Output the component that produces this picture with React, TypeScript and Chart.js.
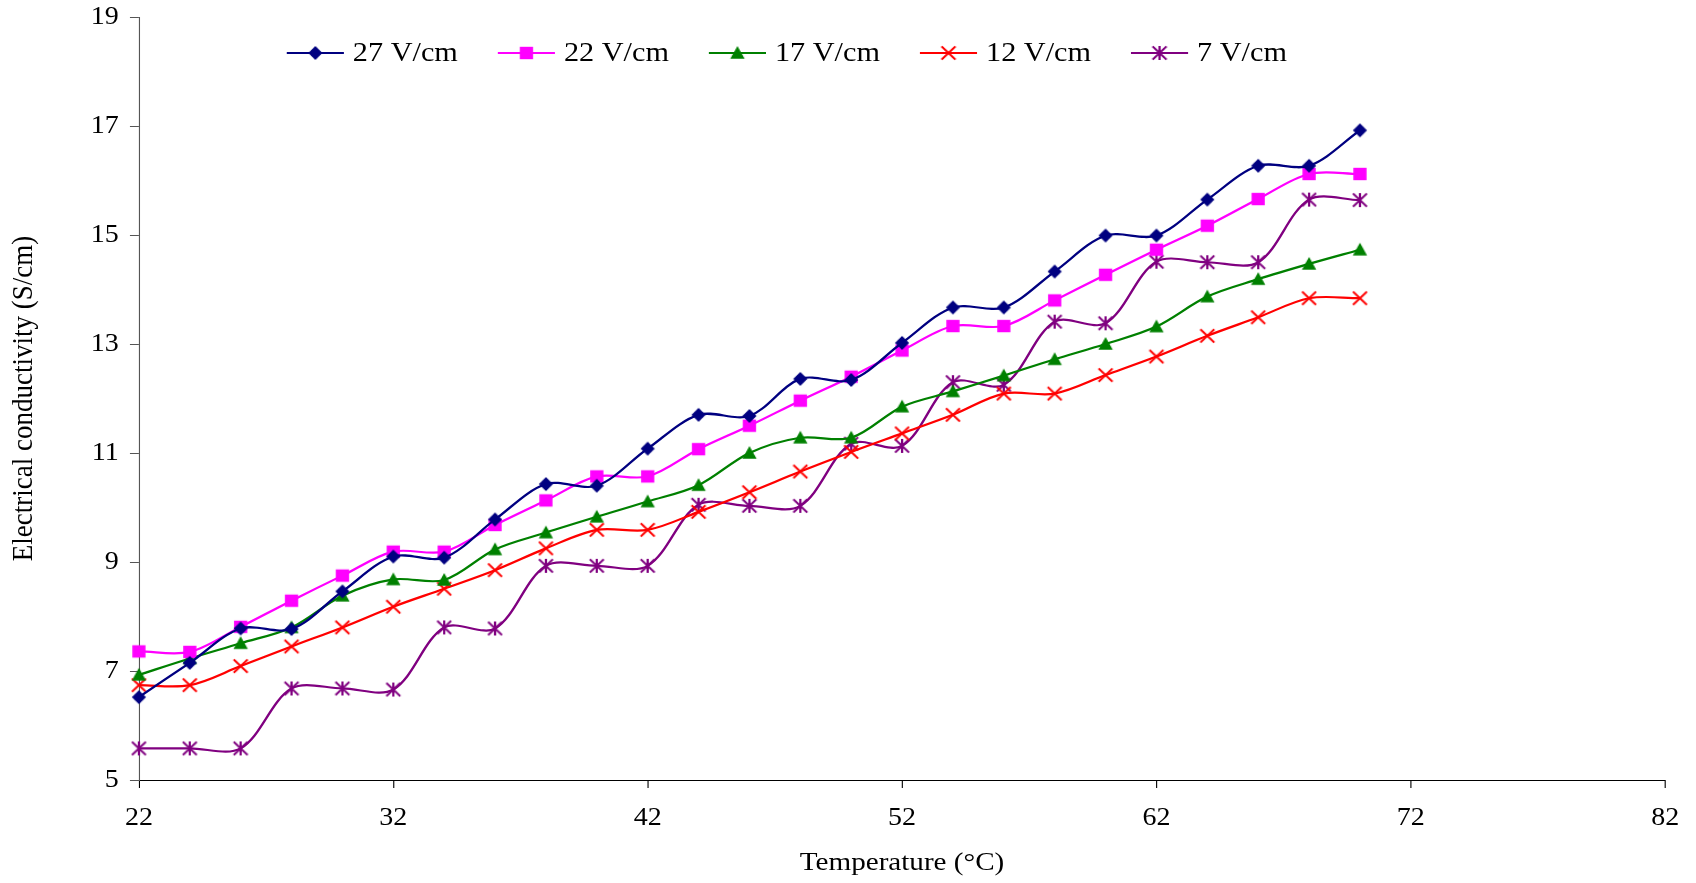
import React, { useEffect, useRef } from 'react';
import { Chart, registerables } from 'chart.js';

Chart.register(...registerables);

// ---- data ----
const temperatures = [22, 24, 26, 28, 30, 32, 34, 36, 38, 40, 42, 44, 46, 48, 50, 52, 54, 56, 58, 60, 62, 64, 66, 68, 70];
const seriesLabels = ['27 V/cm', '22 V/cm', '17 V/cm', '12 V/cm', '7 V/cm'];
const v27 = [6.52, 7.15, 7.78, 7.77, 8.46, 9.10, 9.08, 9.78, 10.43, 10.40, 11.08, 11.70, 11.68, 12.36, 12.34, 13.02, 13.67, 13.67, 14.33, 14.99, 14.99, 15.65, 16.27, 16.27, 16.92];
const v22 = [7.36, 7.35, 7.81, 8.29, 8.75, 9.19, 9.19, 9.68, 10.13, 10.57, 10.57, 11.07, 11.50, 11.96, 12.40, 12.88, 13.33, 13.33, 13.80, 14.27, 14.73, 15.17, 15.66, 16.12, 16.12];
const v17 = [6.93, 7.23, 7.51, 7.80, 8.38, 8.68, 8.67, 9.23, 9.54, 9.83, 10.11, 10.41, 11.00, 11.28, 11.28, 11.85, 12.13, 12.42, 12.72, 13.00, 13.32, 13.87, 14.19, 14.47, 14.73];
const v12 = [6.74, 6.74, 7.09, 7.45, 7.80, 8.18, 8.51, 8.85, 9.25, 9.59, 9.59, 9.92, 10.28, 10.66, 11.02, 11.36, 11.70, 12.09, 12.09, 12.43, 12.77, 13.15, 13.49, 13.84, 13.84];
const v7 = [5.58, 5.58, 5.58, 6.68, 6.68, 6.66, 7.80, 7.78, 8.93, 8.93, 8.93, 10.05, 10.03, 10.03, 11.17, 11.13, 12.30, 12.25, 13.41, 13.38, 14.51, 14.50, 14.50, 15.65, 15.64];
const seriesValues = [v27, v22, v17, v12, v7];
const seriesColors = ['#000080', '#FF00FF', '#008000', '#FF0000', '#800080'];
const seriesMarkers = ['diamond', 'square', 'triangle', 'cross', 'star'];

const xMin = 22, xMax = 82, xStep = 10;
const yMin = 5, yMax = 19, yStep = 2;
const xTitle = 'Temperature (°C)';
const yTitle = 'Electrical conductivity (S/cm)';

// ---- geometry ----
const FULL_W = 1696;
const W = 1514;
const H = 883;
const SX = FULL_W / W;
const FONT = '"Liberation Serif", "Times New Roman", serif';

function makeMarker(kind: string, color: string): HTMLCanvasElement {
  const c = document.createElement('canvas');
  const size = 18;
  c.width = size;
  c.height = size;
  const g = c.getContext('2d')!;
  const m = size / 2;
  g.fillStyle = color;
  g.strokeStyle = color;
  g.lineWidth = 2;
  if (kind === 'diamond') {
    g.beginPath();
    g.moveTo(m - 6.3, m);
    g.lineTo(m, m - 7);
    g.lineTo(m + 6.3, m);
    g.lineTo(m, m + 7);
    g.closePath();
    g.fill();
  } else if (kind === 'square') {
    g.fillRect(m - 5.9, m - 6.2, 11.8, 12.4);
  } else if (kind === 'triangle') {
    g.beginPath();
    g.moveTo(m, m - 7);
    g.lineTo(m + 6.4, m + 5.8);
    g.lineTo(m - 6.4, m + 5.8);
    g.closePath();
    g.fill();
  } else {
    g.beginPath();
    g.moveTo(m - 6.2, m - 6.6);
    g.lineTo(m + 6.2, m + 6.6);
    g.moveTo(m + 6.2, m - 6.6);
    g.lineTo(m - 6.2, m + 6.6);
    if (kind === 'star') {
      g.moveTo(m, m - 7);
      g.lineTo(m, m + 7);
    }
    g.stroke();
  }
  return c;
}

export default function App() {
  const ref = useRef<HTMLCanvasElement>(null);

  useEffect(() => {
    const canvas = ref.current!;
    canvas.width = W;
    canvas.height = H;
    canvas.style.width = W + 'px';
    canvas.style.height = H + 'px';

    const markers = seriesMarkers.map((k, i) => makeMarker(k, seriesColors[i]));

    const legendPlugin = {
      id: 'insideLegend',
      afterDraw(chart: any) {
        const ctx = chart.ctx as CanvasRenderingContext2D;
        ctx.save();
        const startX = 256;
        const step = 188.4;
        const y = 53;
        const lineLen = 51;
        chart.data.datasets.forEach((ds: any, i: number) => {
          const x0 = startX + i * step;
          ctx.strokeStyle = ds.borderColor;
          ctx.lineWidth = 2;
          ctx.beginPath();
          ctx.moveTo(x0, y);
          ctx.lineTo(x0 + lineLen, y);
          ctx.stroke();
          const img = markers[i];
          ctx.drawImage(img, x0 + lineLen / 2 - img.width / 2, y - img.height / 2);
          ctx.fillStyle = '#000';
          ctx.font = `27px ${FONT}`;
          ctx.textBaseline = 'middle';
          ctx.textAlign = 'left';
          ctx.fillText(ds.label, x0 + lineLen + 8, y + 1);
        });
        ctx.restore();
      },
    };

    const chart = new Chart(canvas, {
      type: 'line',
      data: {
        datasets: seriesValues.map((vals, i) => ({
          label: seriesLabels[i],
          data: vals.map((v, j) => ({ x: temperatures[j], y: v })),
          borderColor: seriesColors[i],
          backgroundColor: seriesColors[i],
          borderWidth: 2.2,
          pointStyle: markers[i] as any,
          pointRadius: 7,
          pointHoverRadius: 7,
          tension: 0.33,
          fill: false,
          clip: false as any,
        })),
      },
      options: {
        animation: false,
        responsive: false,
        devicePixelRatio: 1,
        events: [],
        layout: { padding: { top: 17, right: 24, bottom: 0, left: 0 } },
        plugins: {
          legend: { display: false },
          tooltip: { enabled: false },
        },
        scales: {
          x: {
            type: 'linear',
            position: 'bottom',
            min: xMin,
            max: xMax,
            ticks: {
              stepSize: xStep,
              color: '#000',
              font: { family: FONT, size: 25 },
              padding: 15,
              maxRotation: 0,
            },
            grid: {
              display: true,
              drawOnChartArea: false,
              drawTicks: true,
              tickLength: 8,
              tickColor: '#000',
              color: '#000',
            },
            border: { display: true, color: '#000', width: 1 },
            title: {
              display: true,
              text: xTitle,
              color: '#000',
              font: { family: FONT, size: 26 },
              padding: { top: 0, bottom: 4 },
            },
            afterFit: (scale: any) => {
              scale.height = 103;
            },
          },
          y: {
            type: 'linear',
            min: yMin,
            max: yMax,
            ticks: {
              stepSize: yStep,
              color: '#000',
              font: { family: FONT, size: 25 },
              padding: 10,
            },
            grid: {
              display: true,
              drawOnChartArea: false,
              drawTicks: true,
              tickLength: 8,
              tickColor: '#555',
              color: '#555',
            },
            border: { display: true, color: '#555', width: 1 },
            title: {
              display: true,
              text: yTitle,
              color: '#000',
              font: { family: FONT, size: 27 },
              padding: { top: 5, bottom: 0 },
            },
            afterFit: (scale: any) => {
              scale.width = 124;
              scale.paddingTop = 0;
              scale.paddingBottom = 0;
            },
          },
        },
      },
      plugins: [legendPlugin],
    });

    // horizontal stretch to match the reference's aspect
    canvas.width = FULL_W;
    canvas.height = H;
    canvas.style.width = FULL_W + 'px';
    canvas.style.height = H + 'px';
    const ctx = canvas.getContext('2d')!;
    ctx.setTransform(SX, 0, 0, 1, 0, 0);
    chart.draw();

    return () => {
      chart.destroy();
    };
  }, []);

  return (
    <div
      style={{
        position: 'fixed',
        left: 0,
        top: 0,
        width: FULL_W,
        height: H,
        overflow: 'hidden',
        background: '#fff',
      }}
    >
      <canvas ref={ref} width={W} height={H} style={{ display: 'block' }} />
    </div>
  );
}
